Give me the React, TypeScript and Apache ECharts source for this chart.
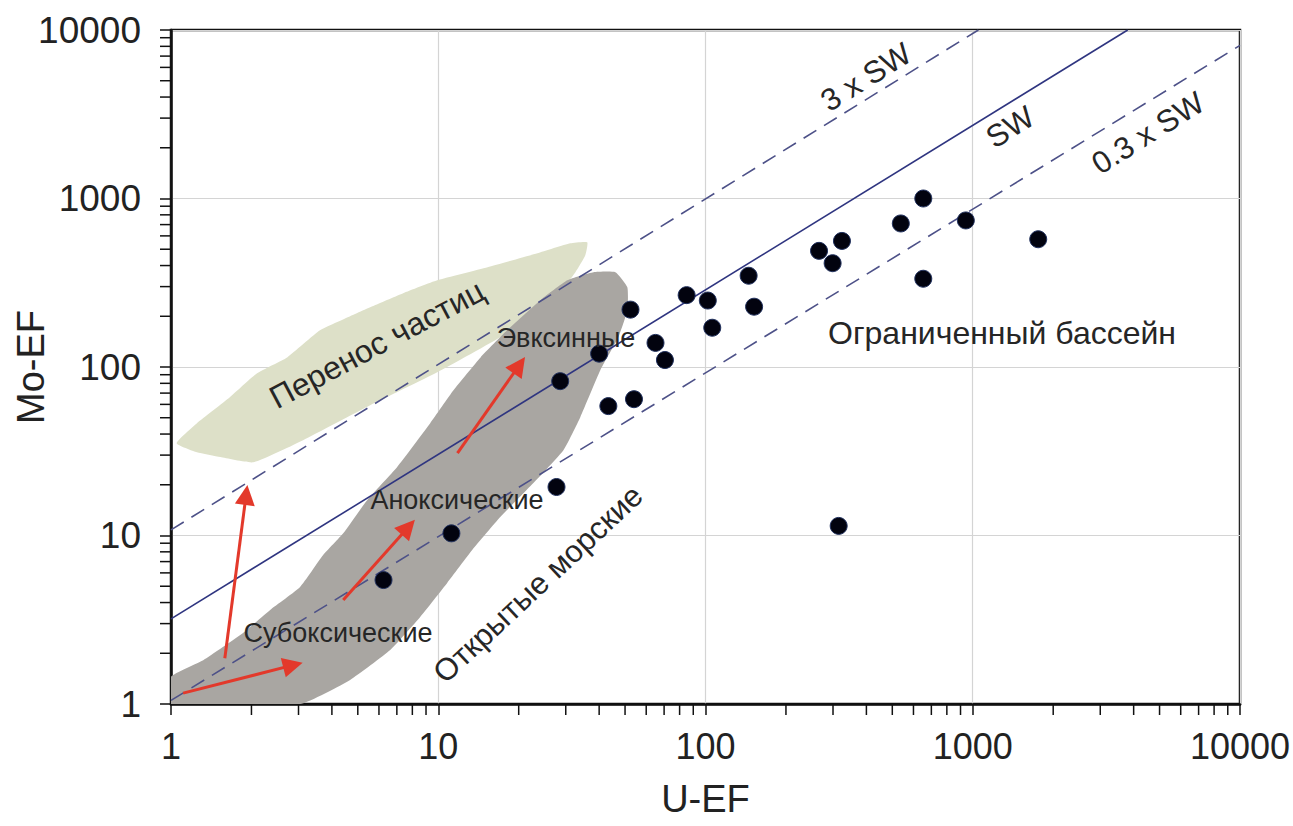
import React, { useEffect, useRef } from "react";
import * as echarts from "echarts";

// Sample points (U-EF, Mo-EF)
const U_EF = [6.24, 11.2, 27.7, 28.6, 40, 43.3, 54, 52.4, 65, 70.5, 85, 102, 106, 145, 152, 266, 324, 299, 653, 538, 942, 1758, 653, 315];
const MO_EF = [5.44, 10.3, 19.4, 82.4, 120, 58.6, 64.4, 219, 139, 110, 267, 248, 171, 348, 228, 489, 560, 413, 1000, 711, 741, 573, 334, 11.4];

// Seawater ratio lines
const SW_LINE = [[1, 3.2], [3800, 10000]];
const SW3_LINE = [[1, 10.8], [1050, 10000]];
const SW03_LINE = [[1, 1.05], [10000, 8100]];

// Fields (U-EF, Mo-EF vertices)
const GRAY_BAND = [
  [1, 1], [1, 1.45], [1.32, 1.82], [1.86, 2.64], [2.35, 3.61], [3.04, 4.94], [3.71, 7.65], [4.41, 10.3],
  [5.42, 16.2], [7.02, 25.5], [9.33, 46.4], [11.4, 72.8], [14.4, 114], [18.1, 165], [24.1, 249], [30.4, 327],
  [38.1, 365], [46, 365], [51, 297], [51, 217], [47.2, 150], [40.4, 95.7], [34, 50.4], [29.4, 32.1],
  [22.7, 20.5], [17.1, 12.9], [13.4, 8.19], [10.8, 5.22], [8.56, 3.28], [6.61, 2.09], [4.68, 1.39], [3.04, 1],
];
const GREEN_FIELD = [
  [1.05, 35.3], [1.25, 46.4], [1.66, 66.2], [2.1, 91.9], [2.72, 114], [3.61, 165], [4.68, 200], [5.81, 233],
  [7.39, 274], [9.91, 327], [15.3, 391], [23.5, 473], [31.2, 542], [36.1, 550], [35.5, 460], [32.6, 365],
  [27, 249], [17.5, 154], [9.91, 93.1], [5.56, 59.3], [3.12, 36.8], [2.03, 27.2], [1.53, 29.2], [1.25, 31.2],
];

// Red trend arrows [tail, arrow-head centre]
const ARROWS = [
  [[1.59, 1.87], [1.91, 17.4]],
  [[1.11, 1.16], [2.86, 1.7]],
  [[4.41, 4.14], [7.72, 11.2]],
  [[11.8, 30.8], [20.1, 102.5]],
];

const DECADES = [1, 10, 100, 1000];
const MINOR_STEPS = [2, 3, 4, 5, 6, 7, 8, 9];

const FONT = 'Arial, "Liberation Sans", Helvetica, sans-serif';

export default function App() {
  const ref = useRef<HTMLDivElement>(null);

  useEffect(() => {
    const chart = echarts.init(ref.current!, null, { renderer: "svg" });
    const minor: number[] = [];
    DECADES.forEach((d) => MINOR_STEPS.forEach((k) => minor.push(d * k)));

    const polygonSeries = (pts: number[][], fill: string, z: number) => ({
      type: "custom",
      coordinateSystem: "cartesian2d",
      data: [[1, 1]],
      z,
      silent: true,
      clip: true,
      renderItem: (_p: any, api: any) => ({
        type: "polygon",
        shape: { points: pts.map((p) => api.coord(p)), smooth: 0.15 },
        style: { fill },
      }),
    });

    const lineSeries = (pts: number[][], color: string, dashed: boolean) => ({
      type: "line",
      data: pts,
      showSymbol: false,
      symbol: "none",
      silent: true,
      z: 3,
      lineStyle: { color, width: 1.6, type: dashed ? [15, 9] : "solid" },
    });

    const text = (t: string, x: number, y: number, size: number, rotDeg = 0) => ({
      type: "text",
      x,
      y,
      rotation: (rotDeg * Math.PI) / 180,
      z: 20,
      silent: true,
      style: {
        text: t,
        fontSize: size,
        fontFamily: FONT,
        fill: "#262626",
        align: "center",
        verticalAlign: "middle",
      },
    });

    const axisCommon = {
      type: "log",
      logBase: 10,
      min: 1,
      max: 10000,
      axisLine: { show: true, lineStyle: { color: "#111", width: 2.5 } },
      axisTick: { show: true, inside: false, length: 11, lineStyle: { color: "#111", width: 1.5 } },
      splitLine: { show: true, lineStyle: { color: "#d4d4d4", width: 1.2 } },
      minorTick: { show: false },
      nameLocation: "middle",
      nameMoveOverlap: false,
      nameTextStyle: { fontSize: 38, fontFamily: FONT, color: "#222" },
    };

    chart.setOption({
      animation: false,
      backgroundColor: "#fff",
      grid: {
        left: 171,
        top: 30,
        right: 53,
        bottom: 122,
        show: true,
        borderColor: "#111",
        borderWidth: 2.5,
        containLabel: false,
        outerBoundsMode: "none",
      },
      xAxis: {
        ...axisCommon,
        name: "U-EF",
        nameGap: 76,
        axisLabel: {
          fontSize: 36,
          fontFamily: FONT,
          color: "#222",
          margin: 24,
          formatter: (v: number) => String(Math.round(v)),
        },
      },
      yAxis: {
        ...axisCommon,
        name: "Mo-EF",
        nameGap: 121,
        axisLabel: {
          fontSize: 37,
          fontFamily: FONT,
          color: "#222",
          margin: 30,
          formatter: (v: number) => String(Math.round(v)),
        },
      },
      series: [
        polygonSeries(GREEN_FIELD, "#dde0c8", 1),
        polygonSeries(GRAY_BAND, "#a9a6a2", 2),
        lineSeries(SW3_LINE, "#4d5188", true),
        lineSeries(SW_LINE, "#2f3580", false),
        lineSeries(SW03_LINE, "#4d5188", true),
        {
          type: "lines",
          coordinateSystem: "cartesian2d",
          data: ARROWS.map((a) => ({ coords: a })),
          symbol: ["none", "triangle"],
          symbolSize: 20,
          silent: true,
          z: 4,
          lineStyle: { color: "#e3392b", width: 3, opacity: 1 },
          itemStyle: { color: "#e3392b" },
        },
        {
          type: "scatter",
          data: U_EF.map((u, i) => [u, MO_EF[i]]),
          symbolSize: 17,
          z: 5,
          itemStyle: { color: "#02030f", borderColor: "#20305e", borderWidth: 1, opacity: 1 },
        },
        {
          type: "custom",
          coordinateSystem: "cartesian2d",
          data: minor.map((v) => [v, 1]),
          clip: false,
          silent: true,
          z: 10,
          renderItem: (_p: any, api: any) => {
            const p = api.coord([api.value(0), 1]);
            return {
              type: "line",
              shape: { x1: p[0], y1: p[1], x2: p[0], y2: p[1] + 11 },
              style: { stroke: "#111", lineWidth: 1.5 },
            };
          },
        },
        {
          type: "custom",
          coordinateSystem: "cartesian2d",
          data: minor.map((v) => [1, v]),
          clip: false,
          silent: true,
          z: 10,
          renderItem: (_p: any, api: any) => {
            const p = api.coord([1, api.value(1)]);
            return {
              type: "line",
              shape: { x1: p[0], y1: p[1], x2: p[0] - 11, y2: p[1] },
              style: { stroke: "#111", lineWidth: 1.5 },
            };
          },
        },
      ],
      graphic: [
        text("3 x SW", 866, 77, 31, 32),
        text("SW", 1010, 127, 31, 32),
        text("0.3 x SW", 1148, 133, 31, 32),
        text("Перенос частиц", 377, 344, 32, 28),
        text("Эвксинные", 566, 338, 27),
        text("Аноксические", 457, 500, 27),
        text("Субоксические", 338, 633, 27),
        text("Открытые морские", 538, 584, 31, 43),
        text("Ограниченный бассейн", 1002, 333, 32),
      ],
    });

    return () => chart.dispose();
  }, []);

  return (
    <div
      ref={ref}
      style={{ position: "absolute", left: 0, top: 0, width: 1293, height: 826 }}
    />
  );
}
